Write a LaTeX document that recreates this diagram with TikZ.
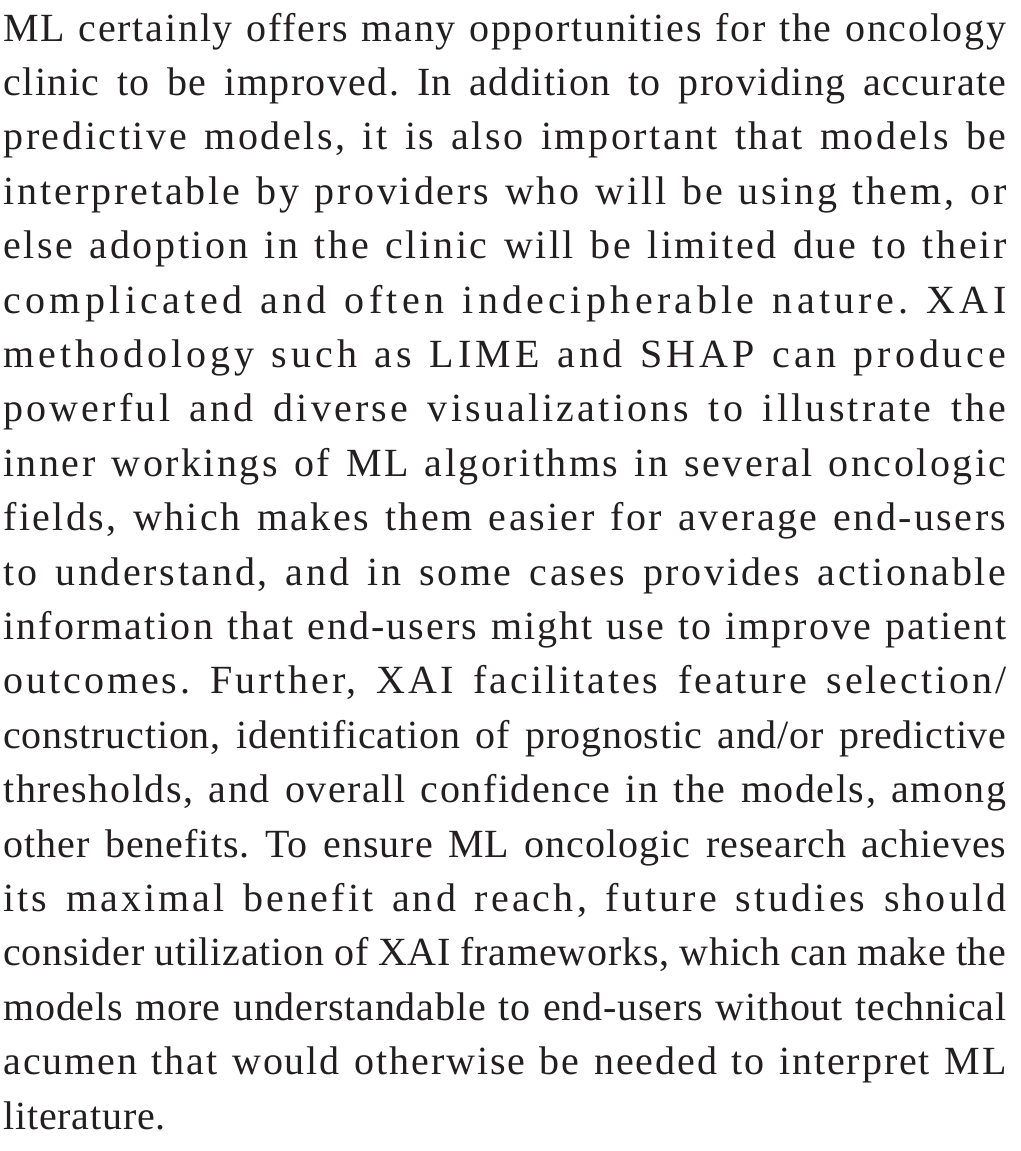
\documentclass[tikz,border=0pt]{standalone}
\usepackage{fontspec}
\usepackage{xcolor}
\setmainfont{Liberation Serif}[LetterSpace=2.0]
\definecolor{inkgray}{HTML}{231F20}
\newcommand\trk[2]{{\addfontfeature{LetterSpace=#1}#2}}
\tikzset{para/.style={anchor=base west,inner sep=0pt,text width=501.5pt,align=justify,
  text=inkgray,font=\fontsize{20}{27.2}\selectfont}}

\begin{document}
\begin{tikzpicture}
\useasboundingbox (0,0) rectangle (510.5pt,-575.5pt);
\node[para] (Conc) at (1.5pt,-20.5pt) {\frenchspacing\hyphenpenalty=10000\exhyphenpenalty=10000\tolerance=10000
\trk{4.4}{ML certainly offers many opportunities for the oncology}\linebreak
\trk{3.5}{clinic to be improved. In addition to providing accurate}\linebreak
\trk{6.6}{predictive models, it is also important that models be}\linebreak
\trk{7.3}{interpretable by providers who will be using them, or}\linebreak
\trk{6.5}{else adoption in the clinic will be limited due to their}\linebreak
\trk{10.9}{complicated and often indecipherable nature. XAI}\linebreak
\trk{9.9}{methodology such as LIME and SHAP can produce}\linebreak
\trk{8}{powerful and diverse visualizations to illustrate the}\linebreak
\trk{6.2}{inner workings of ML algorithms in several oncologic}\linebreak
\trk{6.1}{fields, which makes them easier for average end-users}\linebreak
\trk{6.7}{to understand, and in some cases provides actionable}\linebreak
\trk{5.2}{information that end-users might use to improve patient}\linebreak
\trk{7.4}{outcomes. Further, XAI facilitates feature selection/}\linebreak
construction, identification of prognostic and/or predictive\linebreak
\trk{3.9}{thresholds, and overall confidence in the models, among}\linebreak
\trk{2.5}{other benefits. To ensure ML oncologic research achieves}\linebreak
\trk{7.9}{its maximal benefit and reach, future studies should}\linebreak
consider utilization of XAI frameworks, which can make the\linebreak
models more understandable to end-users without technical\linebreak
\trk{4.8}{acumen that would otherwise be needed to interpret ML}\linebreak
literature.};
\end{tikzpicture}
\end{document}
